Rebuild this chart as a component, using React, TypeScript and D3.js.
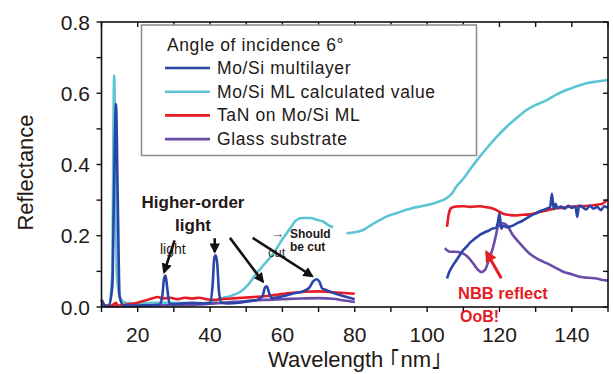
import React, { useEffect, useRef } from "react";
import * as d3 from "d3";

// Mo/Si multilayer (measured)
const mosiWl = [
  10, 10.5, 11, 12, 13, 13.5, 14, 14.5, 15, 16, 18, 20, 22, 24, 26, 26.8, 27.3,
  27.7, 28.2, 28.8, 30, 32, 35, 38, 40, 40.7, 41.2, 41.6, 42, 42.5, 43.2, 45, 48,
  50, 53, 54.5, 55.2, 55.7, 56.3, 57, 60, 63, 66, 67.5, 68.5, 69.5, 70.3, 71, 72,
  74, 77, 80, 92, 105.5, 106, 107, 108, 109, 110, 111, 112, 113, 114, 115, 116,
  117, 118, 119, 119.5, 120, 120.5, 121, 122, 123, 124, 125, 126, 127, 128, 129,
  130, 131, 132, 133, 134, 134.5, 135, 135.5, 136, 137, 138, 139, 140, 141,
  141.5, 142, 143, 144, 145, 146, 147, 148, 149, 150,
];
const mosiR = [
  0.02, 0.01, 0.003, 0.003, 0.06, 0.35, 0.57, 0.3, 0.03, 0.005, 0.004, 0.004,
  0.005, 0.005, 0.006, 0.03, 0.08, 0.088, 0.05, 0.01, 0.008, 0.01, 0.012, 0.01,
  0.012, 0.06, 0.14, 0.145, 0.12, 0.04, 0.012, 0.01, 0.012, 0.015, 0.02, 0.03,
  0.055, 0.058, 0.04, 0.025, 0.03, 0.038, 0.045, 0.055, 0.072, 0.078, 0.07,
  0.052, 0.048, 0.04, 0.03, 0.022, null, 0.08, 0.095, 0.115, 0.13, 0.145, 0.16,
  0.17, 0.182, 0.19, 0.198, 0.205, 0.21, 0.214, 0.22, 0.222, 0.235, 0.262, 0.22,
  0.228, 0.224, 0.226, 0.23, 0.236, 0.24, 0.246, 0.252, 0.258, 0.262, 0.268,
  0.272, 0.276, 0.28, 0.318, 0.275, 0.29, 0.278, 0.282, 0.276, 0.284, 0.278,
  0.282, 0.253, 0.285, 0.28, 0.274, 0.284, 0.276, 0.281, 0.272, 0.283, 0.278,
];

// Mo/Si ML calculated value
const calcWl = [
  10, 12, 13, 13.3, 13.5, 13.8, 14.2, 15, 16, 18, 20, 25, 30, 35, 40, 43.5, 46,
  48.3, 50.5, 52.9, 55, 57.5, 60, 62.1, 63.9, 65.5, 67.6, 69.5, 71.2, 73, 74,
  76, 77.7, 80, 82.3, 84.5, 86.9, 89, 91.5, 94, 96.1, 98.5, 100.7, 103, 105.3,
  106.8, 108.1, 110, 111.8, 114, 116.4, 119, 122, 124.7, 127.5, 130, 133, 135.7,
  138.5, 141, 144, 147, 150,
];
const calcR = [
  0.003, 0.005, 0.1, 0.5, 0.65, 0.45, 0.1, 0.03, 0.015, 0.01, 0.01, 0.012,
  0.012, 0.01, 0.012, 0.025, 0.032, 0.042, 0.062, 0.095, 0.12, 0.15, 0.19, 0.22,
  0.244, 0.25, 0.25, 0.245, 0.24, 0.228, 0.224, null, 0.207, 0.21, 0.216, 0.23,
  0.244, 0.255, 0.263, 0.272, 0.278, 0.283, 0.288, 0.295, 0.305, 0.318, 0.338,
  0.36, 0.385, 0.415, 0.445, 0.475, 0.506, 0.53, 0.553, 0.567, 0.58, 0.596,
  0.609, 0.618, 0.628, 0.633, 0.637,
];

// TaN on Mo/Si ML
const tanWl = [
  10, 10.5, 11, 12, 13, 14, 14.5, 16, 18, 20, 22, 24, 25.5, 27, 29, 31, 33, 35,
  37, 39, 41, 43, 46, 49, 52, 55, 58, 62, 66, 70, 73, 76, 80, 92, 105.5, 106,
  106.7, 108, 110, 112, 114.6, 116.5, 118.3, 119.5, 121, 123, 124.7, 126.5,
  128.3, 130.5, 133, 135, 137.6, 140, 142.2, 144.5, 146.8, 148.5, 149.5, 150,
];
const tanR = [
  0.02, 0.01, 0.004, 0.003, 0.005, 0.012, 0.004, 0.006, 0.008, 0.012, 0.018,
  0.024, 0.028, 0.024, 0.026, 0.022, 0.026, 0.024, 0.026, 0.022, 0.02, 0.022,
  0.024, 0.026, 0.028, 0.03, 0.034, 0.039, 0.043, 0.044, 0.042, 0.04, 0.037,
  null, 0.225, 0.262, 0.278, 0.282, 0.283, 0.281, 0.283, 0.28, 0.276, 0.27,
  0.262, 0.258, 0.257, 0.259, 0.26, 0.265, 0.271, 0.276, 0.279, 0.282, 0.283,
  0.284, 0.287, 0.29, 0.298, 0.302,
];

// Glass substrate
const glassWl = [
  10, 12, 15, 20, 25, 30, 35, 40, 45, 50, 55, 60, 65, 70, 74, 77, 80, 92, 104.9,
  106.3, 108, 110, 111.5, 112.7, 114, 115, 116, 117, 118.3, 119, 119.6, 121,
  122.2, 123.5, 125.6, 128.3, 130.5, 133, 135.5, 137.6, 140, 142.2, 144.5,
  146.8, 148.5, 150,
];
const glassR = [
  0.004, 0.002, 0.002, 0.003, 0.004, 0.005, 0.006, 0.009, 0.013, 0.017, 0.02,
  0.022, 0.024, 0.025, 0.023, 0.018, 0.014, null, 0.165, 0.155, 0.155, 0.15,
  0.138, 0.123, 0.105, 0.098, 0.104, 0.13, 0.17, 0.2, 0.225, 0.235, 0.228,
  0.205, 0.179, 0.15, 0.135, 0.123, 0.11, 0.099, 0.092, 0.085, 0.082, 0.08,
  0.076, 0.074,
];

const legendTitle = "Angle of incidence 6°";
const seriesNames = [
  "Mo/Si multilayer",
  "Mo/Si ML calculated value",
  "TaN on Mo/Si ML",
  "Glass substrate",
];
const seriesColors = ["#2a44a8", "#5cc4d4", "#e51c23", "#6b4ba8"];

const xTicks = [20, 40, 60, 80, 100, 120, 140];
const yTicks = [0, 0.2, 0.4, 0.6, 0.8];

// black arrows [fromWl, fromR, toWl, toR]
const blackArrows = [
  [30.2, 0.187, 27.3, 0.098],
  [41.3, 0.193, 41.3, 0.155],
  [45.5, 0.194, 54.6, 0.071],
  [51.8, 0.194, 68.2, 0.087],
];
const redArrow = [120.5, 0.081, 116.4, 0.154];

const App: React.FC = () => {
  const svgRef = useRef<SVGSVGElement | null>(null);

  useEffect(() => {
    const svg = d3.select(svgRef.current);
    svg.selectAll("*").remove();

    const left = 101.5;
    const right = 608;
    const top = 22;
    const bottom = 307;
    const font = "'Liberation Sans', Arial, sans-serif";

    const x = d3.scaleLinear().domain([10, 150]).range([left, right]);
    const y = d3.scaleLinear().domain([0, 0.8]).range([bottom, top]);

    const defs = svg.append("defs");
    const marker = (id: string, color: string) =>
      defs
        .append("marker")
        .attr("id", id)
        .attr("viewBox", "0 0 10 10")
        .attr("refX", 8)
        .attr("refY", 5)
        .attr("markerWidth", 4)
        .attr("markerHeight", 4)
        .attr("orient", "auto")
        .append("path")
        .attr("d", "M0,0 L10,5 L0,10 Z")
        .attr("fill", color);
    marker("arrBlack", "#111");
    marker("arrRed", "#e51c23");

    // curves
    const series: [number[], (number | null)[]][] = [
      [calcWl, calcR],
      [glassWl, glassR],
      [tanWl, tanR],
      [mosiWl, mosiR],
    ];
    const colorFor = [seriesColors[1], seriesColors[3], seriesColors[2], seriesColors[0]];
    const line = d3
      .line<[number, number | null]>()
      .defined((d) => d[1] !== null)
      .x((d) => x(d[0]))
      .y((d) => y(d[1] as number))
      .curve(d3.curveMonotoneX);

    const plot = svg.append("g");
    series.forEach(([wl, r], i) => {
      plot
        .append("path")
        .datum(d3.zip(wl, r) as [number, number | null][])
        .attr("d", line)
        .attr("fill", "none")
        .attr("stroke", colorFor[i])
        .attr("stroke-width", 2.6)
        .attr("stroke-linejoin", "round");
    });

    // frame
    svg
      .append("rect")
      .attr("x", left)
      .attr("y", top)
      .attr("width", right - left)
      .attr("height", bottom - top)
      .attr("fill", "none")
      .attr("stroke", "#111")
      .attr("stroke-width", 1.6);

    // ticks
    const xMinor = d3.range(10, 151, 10);
    const yMinor = d3.range(0, 0.81, 0.1);
    const tk = svg.append("g").attr("stroke", "#111").attr("stroke-width", 1.4);
    xMinor.forEach((v) => {
      tk.append("line").attr("x1", x(v)).attr("x2", x(v)).attr("y1", bottom).attr("y2", bottom + 5);
      tk.append("line").attr("x1", x(v)).attr("x2", x(v)).attr("y1", top).attr("y2", top + 5);
    });
    yMinor.forEach((v) => {
      tk.append("line").attr("x1", left - 5).attr("x2", left).attr("y1", y(v)).attr("y2", y(v));
      tk.append("line").attr("x1", right - 5).attr("x2", right).attr("y1", y(v)).attr("y2", y(v));
    });

    svg
      .append("g")
      .selectAll("text")
      .data(xTicks)
      .join("text")
      .attr("x", (d) => x(d))
      .attr("y", 342)
      .attr("text-anchor", "middle")
      .attr("font-family", font)
      .attr("font-size", 21)
      .attr("fill", "#231815")
      .text((d) => d);

    svg
      .append("g")
      .selectAll("text")
      .data(yTicks)
      .join("text")
      .attr("x", 90)
      .attr("y", (d) => y(d) + 7.5)
      .attr("text-anchor", "end")
      .attr("font-family", font)
      .attr("font-size", 21)
      .attr("fill", "#231815")
      .text((d) => d.toFixed(1));

    // axis titles
    svg
      .append("text")
      .attr("transform", `translate(33,${(top + bottom) / 2 + 8}) rotate(-90)`)
      .attr("text-anchor", "middle")
      .attr("font-family", font)
      .attr("font-size", 22)
      .attr("fill", "#231815")
      .text("Reflectance");
    svg
      .append("text")
      .attr("x", 355)
      .attr("y", 367)
      .attr("text-anchor", "middle")
      .attr("font-family", font)
      .attr("font-size", 22)
      .attr("fill", "#231815")
      .text("Wavelength ｢nm｣");

    // legend
    const lg = svg.append("g");
    lg.append("rect")
      .attr("x", 141.5)
      .attr("y", 25)
      .attr("width", 335)
      .attr("height", 130.5)
      .attr("fill", "#fff")
      .attr("stroke", "#8a8a8a")
      .attr("stroke-width", 1.5);
    lg.append("text")
      .attr("x", 167)
      .attr("y", 51)
      .attr("font-family", font)
      .attr("font-size", 17.5)
      .attr("letter-spacing", 0.6)
      .attr("fill", "#231815")
      .text(legendTitle);
    seriesNames.forEach((name, i) => {
      const yy = 68 + i * 23.7;
      lg.append("line")
        .attr("x1", 165)
        .attr("x2", 210)
        .attr("y1", yy)
        .attr("y2", yy)
        .attr("stroke", seriesColors[i])
        .attr("stroke-width", 2.6);
      lg.append("text")
        .attr("x", 217)
        .attr("y", yy + 6)
        .attr("font-family", font)
        .attr("font-size", 17.5)
        .attr("letter-spacing", 0.6)
        .attr("fill", "#231815")
        .text(name);
    });

    // annotations
    const ann = svg.append("g");
    ann.append("text")
      .attr("x", 268)
      .attr("y", 257)
      .attr("font-family", font)
      .attr("font-size", 13)
      .attr("fill", "#333")
      .text("cut");
    blackArrows.forEach(([x1, y1, x2, y2]) => {
      ann.append("line")
        .attr("x1", x(x1))
        .attr("y1", y(y1))
        .attr("x2", x(x2))
        .attr("y2", y(y2))
        .attr("stroke", "#111")
        .attr("stroke-width", 2.6)
        .attr("marker-end", "url(#arrBlack)");
    });
    ann.append("text")
      .attr("x", 193)
      .attr("y", 208)
      .attr("text-anchor", "middle")
      .attr("font-family", font)
      .attr("font-weight", "bold")
      .attr("font-size", 17)
      .attr("fill", "#231815")
      .text("Higher-order");
    ann.append("text")
      .attr("x", 193)
      .attr("y", 231)
      .attr("text-anchor", "middle")
      .attr("font-family", font)
      .attr("font-weight", "bold")
      .attr("font-size", 17)
      .attr("fill", "#231815")
      .text("light");
    ann.append("text")
      .attr("x", 160)
      .attr("y", 254)
      .attr("font-family", font)
      .attr("font-size", 14)
      .attr("fill", "#231815")
      .text("light");
    ann.append("text")
      .attr("x", 271)
      .attr("y", 238)
      .attr("font-family", font)
      .attr("font-size", 13)
      .attr("fill", "#444")
      .text("→");
    ann.append("text")
      .attr("x", 290)
      .attr("y", 238)
      .attr("font-family", font)
      .attr("font-weight", "bold")
      .attr("font-size", 12)
      .attr("fill", "#231815")
      .text("Should");
    ann.append("text")
      .attr("x", 290)
      .attr("y", 251)
      .attr("font-family", font)
      .attr("font-weight", "bold")
      .attr("font-size", 12)
      .attr("fill", "#231815")
      .text("be cut");

    ann.append("line")
      .attr("x1", x(redArrow[0]))
      .attr("y1", y(redArrow[1]))
      .attr("x2", x(redArrow[2]))
      .attr("y2", y(redArrow[3]))
      .attr("stroke", "#e51c23")
      .attr("stroke-width", 3)
      .attr("marker-end", "url(#arrRed)");
    ann.append("text")
      .attr("x", 458)
      .attr("y", 299)
      .attr("font-family", font)
      .attr("font-weight", "bold")
      .attr("font-size", 16.5)
      .attr("fill", "#e51c23")
      .text("NBB reflect");
    ann.append("text")
      .attr("x", 460)
      .attr("y", 322)
      .attr("font-family", font)
      .attr("font-weight", "bold")
      .attr("font-size", 16)
      .attr("fill", "#e51c23")
      .text("OoB!");
  }, []);

  return (
    <svg
      ref={svgRef}
      width={613}
      height={374}
      style={{ position: "absolute", left: 0, top: 0, background: "#fff" }}
    ></svg>
  );
};

export default App;
